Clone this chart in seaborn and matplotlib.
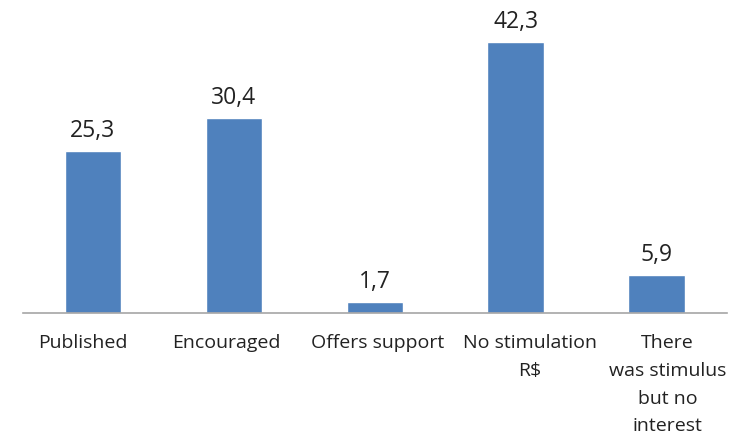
import matplotlib
matplotlib.use("Agg")
import matplotlib.pyplot as plt
import matplotlib.transforms as mtransforms
import seaborn as sns
import pandas as pd

categories = ["Published", "Encouraged", "Offers support", "No stimulation\nR$",
              "There\nwas stimulus\nbut no\ninterest"]
values = [25.3, 30.4, 1.7, 42.3, 5.9]
value_labels = ["25,3", "30,4", "1,7", "42,3", "5,9"]

df = pd.DataFrame({"category": categories, "value": values})

sns.set_style("white")
plt.rcParams['font.family'] = ['Open Sans', 'DejaVu Sans']

fig = plt.figure(figsize=(7.36, 4.43), dpi=100)
ax = fig.add_axes([0.0306, 0.293, 0.957, 0.651])

sns.barplot(data=df, x="category", y="value", color="#4F81BD", saturation=1,
            width=0.4, ax=ax)

for i, v in enumerate(values):
    ax.text(i, v + 2.2, value_labels[i], ha="center", va="baseline", fontsize=16.5, color="#222222")

ax.set_xlim(-0.5, 4.5)
ax.set_ylim(0, 45)
ax.set_yticks([])
ax.set_xlabel("")
ax.set_ylabel("")
for s in ["top", "right", "left"]:
    ax.spines[s].set_visible(False)
ax.spines["bottom"].set_color("#A6A6A6")
ax.spines["bottom"].set_linewidth(1.2)
ax.tick_params(axis="x", length=0, pad=15)

# excel-style labels sit a bit off the bar centres
shifts = [-10, -7, 3, 14, 11]
for lbl, dx in zip(ax.get_xticklabels(), shifts):
    lbl.set_fontsize(14)
    lbl.set_linespacing(1.7)
    lbl.set_verticalalignment("top")
    lbl.set_color("#222222")
    lbl.set_transform(lbl.get_transform() + mtransforms.ScaledTranslation(dx / 100, 0, fig.dpi_scale_trans))

fig.savefig("out.png", dpi=100)
